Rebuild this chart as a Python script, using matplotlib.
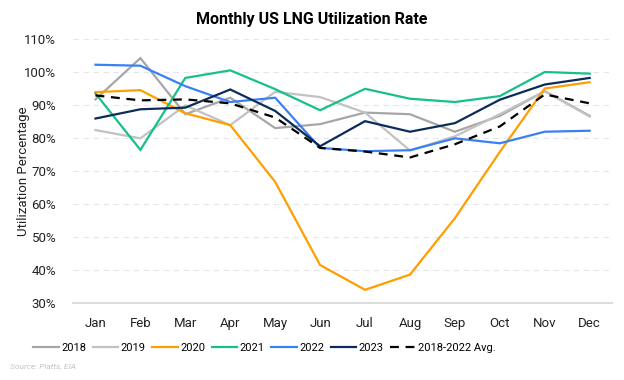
import matplotlib
matplotlib.use("Agg")
import matplotlib.pyplot as plt

plt.rcParams["font.family"] = ["Roboto", "DejaVu Sans"]

# ── data ──────────────────────────────────────────────────────────────────────
MONTHS = ["Jan", "Feb", "Mar", "Apr", "May", "Jun",
          "Jul", "Aug", "Sep", "Oct", "Nov", "Dec"]

Y2018 = [91.7, 104.2, 87.2, 92.2, 83.0, 84.2, 87.7, 87.2, 81.9, 86.7, 94.2, 86.7]
Y2019 = [82.4, 79.9, 89.9, 83.9, 94.0, 92.4, 87.7, 76.2, 80.5, 87.2, 94.2, 86.5]
Y2020 = [93.9, 94.5, 87.5, 83.9, 66.7, 41.5, 34.0, 38.6, 55.7, 75.8, 95.0, 96.9]
Y2021 = [93.5, 76.4, 98.2, 100.5, 94.8, 88.4, 94.9, 91.9, 90.9, 92.7, 100.0, 99.5]
Y2022 = [102.2, 101.9, 95.7, 90.9, 92.2, 77.0, 76.0, 76.3, 79.9, 78.4, 81.9, 82.2]
Y2023 = [85.9, 88.7, 89.2, 94.7, 88.2, 77.5, 85.1, 81.9, 84.5, 91.6, 96.2, 98.2]
AVG   = [92.9, 91.4, 91.7, 90.5, 86.2, 77.0, 75.9, 74.1, 78.1, 83.5, 93.2, 90.5]

SERIES = [
    ("2018", Y2018, "#a6a6a6"),
    ("2019", Y2019, "#c2c2c2"),
    ("2020", Y2020, "#ff9e00"),
    ("2021", Y2021, "#16c08c"),
    ("2022", Y2022, "#3a80f5"),
    ("2023", Y2023, "#0b2c5a"),
]

YTICKS = list(range(30, 111, 10))

# ── plot ──────────────────────────────────────────────────────────────────────
fig = plt.figure(figsize=(6.24, 3.80), dpi=100)
ax = fig.add_axes([0.117, 0.2026, 0.864, 0.6948])

x = range(len(MONTHS))
for name, vals, col in SERIES:
    ax.plot(x, vals, color=col, lw=1.6, label=name, solid_joinstyle="miter")
ax.plot(x, AVG, color="black", lw=1.6, ls=(0, (4, 3)), label="2018-2022 Avg.")

ax.set_xlim(-0.5, 11.5)
ax.set_ylim(30, 110)
ax.set_xticks(list(x))
ax.set_xticklabels(MONTHS, fontsize=9.5, color="#222")
ax.set_yticks(YTICKS)
ax.set_yticklabels([f"{t}%" for t in YTICKS], fontsize=9.5, color="#222")
ax.tick_params(length=0, pad=10)
ax.tick_params(axis="y", pad=12)

ax.grid(axis="y", color="#e6e6e6", lw=0.8, ls=(0, (5, 4)))
ax.set_axisbelow(True)
for s in ["top", "right", "left"]:
    ax.spines[s].set_visible(False)
ax.spines["bottom"].set_color("#dcdcdc")
ax.spines["bottom"].set_linewidth(1.5)

ax.set_ylabel("Utilization Percentage", fontsize=9.5, color="#222")
ax.yaxis.set_label_coords((30 - 73) / 539, 0.5)

fig.text(0.5, 0.949, "Monthly US LNG Utilization Rate",
         ha="center", va="center", fontsize=11.5, fontweight="bold")

fig.legend(loc="center", bbox_to_anchor=(264.5 / 624, 1 - 348 / 380), ncol=7,
           frameon=False, fontsize=8, handlelength=2.3, handletextpad=0.2,
           columnspacing=0.6)

fig.text(10 / 624, 1 - 366 / 380, "Source: Platts, EIA", fontsize=6,
         style="italic", color="#c4c4c4", ha="left", va="center")

fig.savefig("out.png", dpi=100)
